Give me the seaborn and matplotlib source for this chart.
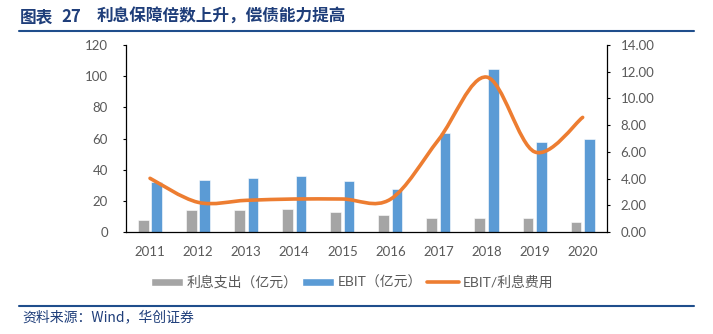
import matplotlib
matplotlib.use("Agg")
import matplotlib.pyplot as plt
import seaborn as sns
import pandas as pd
from matplotlib.path import Path
from matplotlib.patches import PathPatch, Patch
from matplotlib.lines import Line2D

# ---- data ----
years = ["2011", "2012", "2013", "2014", "2015", "2016", "2017", "2018", "2019", "2020"]
interest = [7.7, 14.1, 14.0, 14.5, 13.0, 10.9, 9.2, 8.8, 9.2, 6.6]
ebit = [31.9, 33.4, 34.5, 35.9, 32.5, 27.4, 63.7, 104.4, 57.6, 59.7]
coverage = [4.02, 2.22, 2.37, 2.47, 2.47, 2.45, 6.9, 11.6, 6.0, 8.58]
series_names = ["利息支出（亿元）", "EBIT（亿元）", "EBIT/利息费用"]

sns.set_theme(style="white")
plt.rcParams["font.family"] = ["Lato", "Noto Sans CJK SC", "DejaVu Sans"]

GREY = "#A5A5A5"
BLUE = "#5B9BD5"
ORANGE = "#ED7D31"
TXT = "#595959"
NAVY = "#1F3E7A"
CJK = ["Noto Sans CJK SC", "DejaVu Sans"]

df = pd.DataFrame({
    "year": years * 2,
    "value": interest + ebit,
    "series": [series_names[0]] * len(years) + [series_names[1]] * len(years),
})

fig = plt.figure(figsize=(7.13, 3.34), dpi=100)
ax = fig.add_axes([126 / 713, 1 - 232 / 334, (606.7 - 126) / 713, (232 - 45) / 334])

sns.barplot(data=df, x="year", y="value", hue="series", palette=[GREY, BLUE],
            width=0.556, gap=0.2, ax=ax, legend=False, saturation=1,
            edgecolor="white", linewidth=0.4)
ax.set_xlim(-0.5, len(years) - 0.5)
ax.set_ylim(0, 120)
ax.set_yticks(range(0, 121, 20))
ax.set_xlabel("")
ax.set_ylabel("")

ax2 = ax.twinx()
ax2.set_ylim(0, 14)
ax2.set_yticks(range(0, 15, 2))
ax2.set_yticklabels([f"{v:.2f}" for v in range(0, 15, 2)])

# smoothed line (Excel-style Bezier through the data points)
pts = list(zip(range(len(coverage)), coverage))
verts = [pts[0]]
codes = [Path.MOVETO]
n = len(pts)
for i in range(n - 1):
    p0 = pts[i - 1] if i > 0 else pts[i]
    p1 = pts[i]
    p2 = pts[i + 1]
    p3 = pts[i + 2] if i + 2 < n else pts[i + 1]
    c1 = (p1[0] + (p2[0] - p0[0]) / 6, p1[1] + (p2[1] - p0[1]) / 6)
    c2 = (p2[0] - (p3[0] - p1[0]) / 6, p2[1] - (p3[1] - p1[1]) / 6)
    verts += [c1, c2, p2]
    codes += [Path.CURVE4] * 3
ax2.add_patch(PathPatch(Path(verts, codes), facecolor="none", edgecolor=ORANGE,
                        lw=2.6, capstyle="round", joinstyle="round", zorder=5))

for a in (ax, ax2):
    for s in a.spines.values():
        s.set_visible(False)
ax.spines["left"].set_visible(True)
ax.spines["bottom"].set_visible(True)
ax2.spines["right"].set_visible(True)
for a, side in ((ax, "left"), (ax, "bottom"), (ax2, "right")):
    a.spines[side].set_color("black")
    a.spines[side].set_linewidth(0.9)

ax.tick_params(axis="y", direction="out", length=2.5, width=0.8, color="black",
               pad=10.5, labelsize=9.5, labelcolor=TXT, left=True)
ax.tick_params(axis="x", length=0, pad=10, labelsize=9.5, labelcolor=TXT)
ax2.tick_params(axis="y", direction="out", length=2.5, width=0.8, color="black",
                pad=7.5, labelsize=9.5, labelcolor=TXT, right=True)
ax.grid(False)
ax2.grid(False)

handles = [Patch(facecolor=GREY), Patch(facecolor=BLUE),
           Line2D([0], [0], color=ORANGE, lw=2.6)]
fig.legend(handles, series_names, loc="center", bbox_to_anchor=(352 / 713, 1 - 282 / 334),
           ncol=3, frameon=False, fontsize=10, handlelength=2.3, handleheight=0.5,
           handletextpad=0.3, columnspacing=0.3, labelcolor=TXT)

# title, rules and source
ty = 1 - 17 / 334
fig.text(20 / 713, ty, "图表", fontsize=12, fontweight="bold", color=NAVY,
         va="center", ha="left", family=CJK)
fig.text(61 / 713, ty, "27", fontsize=12, fontweight="bold", color=NAVY,
         va="center", ha="left", family=CJK)
fig.text(97 / 713, ty, "利息保障倍数上升，偿债能力提高", fontsize=12, fontweight="bold",
         color=NAVY, va="center", ha="left", family=CJK)
fig.add_artist(Line2D([19 / 713, 694 / 713], [1 - 30.5 / 334] * 2, color="#1F4E8C", lw=1.5))
fig.add_artist(Line2D([19 / 713, 694 / 713], [1 - 305.6 / 334] * 2, color="#1F4E8C", lw=1.5))
fig.text(22 / 713, 1 - 317 / 334, "资料来源：Wind，华创证券", fontsize=10, style="italic",
         color=NAVY, va="center", ha="left", family=CJK)

fig.savefig("out.png", dpi=100)
